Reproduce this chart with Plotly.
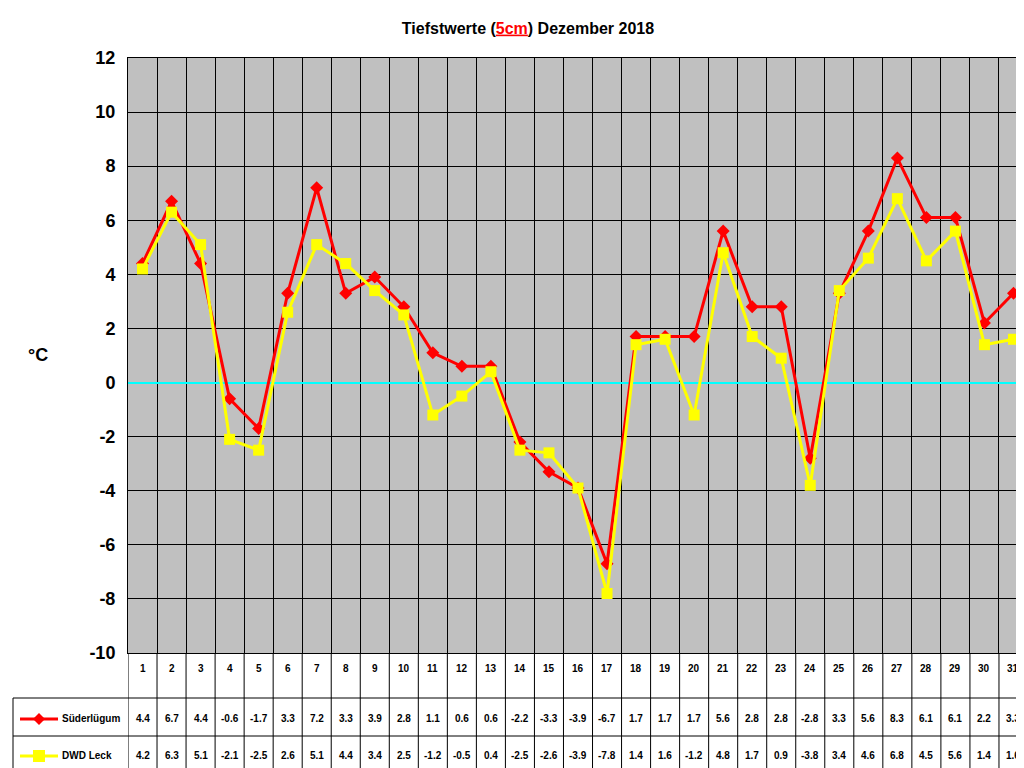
import plotly.graph_objects as go

days = list(range(1, 32))
sued = [4.4, 6.7, 4.4, -0.6, -1.7, 3.3, 7.2, 3.3, 3.9, 2.8, 1.1, 0.6, 0.6, -2.2, -3.3, -3.9, -6.7, 1.7, 1.7, 1.7, 5.6, 2.8, 2.8, -2.8, 3.3, 5.6, 8.3, 6.1, 6.1, 2.2, 3.3]
leck = [4.2, 6.3, 5.1, -2.1, -2.5, 2.6, 5.1, 4.4, 3.4, 2.5, -1.2, -0.5, 0.4, -2.5, -2.6, -3.9, -7.8, 1.4, 1.6, -1.2, 4.8, 1.7, 0.9, -3.8, 3.4, 4.6, 6.8, 4.5, 5.6, 1.4, 1.6]
yticks = list(range(-10, 13, 2))

W, H = 1024, 768
def py(p): return 1 - p / H
def px(p): return p / W

F = "Liberation Sans, Arial"
fig = go.Figure()
fig.add_trace(go.Scatter(x=days, y=sued, mode="lines+markers", name="Süderlügum",
                         line=dict(color="#ff0000", width=3), marker=dict(symbol="diamond", size=10, color="#ff0000")))
fig.add_trace(go.Scatter(x=days, y=leck, mode="lines+markers", name="DWD Leck",
                         line=dict(color="#ffff00", width=3), marker=dict(symbol="square", size=11, color="#ffff00")))

fig.update_layout(
    width=W, height=H, margin=dict(l=0, r=0, t=0, b=0, autoexpand=False), showlegend=False,
    paper_bgcolor="white", plot_bgcolor="#c0c0c0",
    title=dict(text="<b>Tiefstwerte (<span style='color:red'><u>5cm</u></span>) Dezember 2018</b>",
               x=520 / W, xanchor="center", y=py(20), yanchor="middle", font=dict(family=F, size=16, color="black")),
    xaxis=dict(domain=[px(120), px(1020)], range=[0.5, 31.5], tickvals=[d + 0.5 for d in days[:-1]],
               showticklabels=False, showgrid=True, gridcolor="black", gridwidth=1, zeroline=False,
               showline=True, linecolor="black", mirror=True, ticks="", automargin=False),
    yaxis=dict(domain=[py(645), py(50)], range=[-10, 12], tickvals=yticks,
               ticktext=[f"<b>{v}</b>" for v in yticks],
               tickfont=dict(family=F, size=18, color="black"), showgrid=True, gridcolor="black",
               zeroline=True, zerolinecolor="#00ffff", zerolinewidth=2, automargin=False,
               showline=True, linecolor="black", mirror=True, ticks="", ticklabelstandoff=8),
)

shapes = []
for d in range(32):
    xv = d + 0.5
    shapes.append(dict(type="line", xref="x", yref="paper", x0=xv, x1=xv, y0=py(766), y1=py(645), line=dict(color="black", width=1)))
for yy in [690, 728, 766]:
    shapes.append(dict(type="line", xref="paper", yref="paper", x0=px(5), x1=px(1020), y0=py(yy), y1=py(yy), line=dict(color="black", width=1)))
shapes.append(dict(type="line", xref="paper", yref="paper", x0=px(5), x1=px(5), y0=py(766), y1=py(690), line=dict(color="black", width=1)))
for yy, c in [(711, "#ff0000"), (748, "#ffff00")]:
    shapes.append(dict(type="line", xref="paper", yref="paper", x0=px(12), x1=px(50), y0=py(yy), y1=py(yy), line=dict(color=c, width=3)))
# legend markers (pixel paths)
cx, cy = 31, 711
shapes.append(dict(type="path", xref="paper", yref="paper",
                   path=f"M {px(cx-6)},{py(cy)} L {px(cx)},{py(cy-6)} L {px(cx+6)},{py(cy)} L {px(cx)},{py(cy+6)} Z",
                   fillcolor="#ff0000", line=dict(width=0)))
cy = 748
shapes.append(dict(type="rect", xref="paper", yref="paper", x0=px(cx-6), x1=px(cx+6), y0=py(cy+6), y1=py(cy-6),
                   fillcolor="#ffff00", line=dict(width=0)))
fig.update_layout(shapes=shapes)

ann = []
tf = dict(family=F, size=10, color="black")
for d, a, b in zip(days, sued, leck):
    ann.append(dict(x=d, y=py(668), xref="x", yref="paper", text=f"<b>{d}</b>", showarrow=False, font=tf))
    ann.append(dict(x=d, y=py(718), xref="x", yref="paper", text=f"<b>{a}</b>", showarrow=False, font=tf))
    ann.append(dict(x=d, y=py(755), xref="x", yref="paper", text=f"<b>{b}</b>", showarrow=False, font=tf))
ann.append(dict(x=px(52), y=py(718), xref="paper", yref="paper", xanchor="left", text="<b>Süderlügum</b>", showarrow=False, font=tf))
ann.append(dict(x=px(52), y=py(755), xref="paper", yref="paper", xanchor="left", text="<b>DWD Leck</b>", showarrow=False, font=tf))
ann.append(dict(x=px(18), y=py(347), xref="paper", yref="paper", text="<b>°C</b>", showarrow=False, font=dict(family=F, size=18, color="black")))
fig.update_layout(annotations=ann)

fig.write_html("out.html")
